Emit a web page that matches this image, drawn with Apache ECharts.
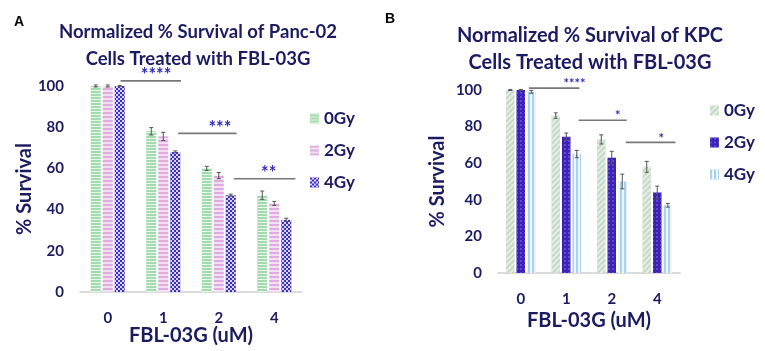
<!DOCTYPE html>
<html>
<head>
<meta charset="utf-8">
<script src="https://cdn.jsdelivr.net/npm/echarts@6/dist/echarts.min.js"></script>
<style>
html, body { margin: 0; padding: 0; background: #fff; }
#wrap { position: relative; width: 765px; height: 351px; }
#chartA { position: absolute; left: 0; top: 0; width: 380px; height: 351px; }
#chartB { position: absolute; left: 380px; top: 0; width: 385px; height: 351px; }
</style>
</head>
<body>
<div id="wrap"><div id="chartA"></div><div id="chartB"></div></div>
<script>
var categories = ['0', '1', '2', '4'];
var doseNames = ['0Gy', '2Gy', '4Gy'];

/* A: Panc-02 */
var panc0Gy = [100, 78, 60, 47];
var panc2Gy = [100, 75.5, 56.5, 43];
var panc4Gy = [100, 68, 47, 35];
var pancErr0Gy = [0.5, 1.8, 1, 2];
var pancErr2Gy = [0.5, 2, 1.5, 1];
var pancErr4Gy = [0.3, 0.5, 0.5, 0.8];
var pancSigFrom = [0.23, 1.27, 2.27];
var pancSigTo = [1.32, 2.32, 3.38];
var pancSigY = [102.5, 77, 55];
var pancSigLabelX = [0.87, 2.02, 2.9];
var pancSigText = ['****', '***', '**'];

/* B: KPC */
var kpc0Gy = [100, 86, 73, 58];
var kpc2Gy = [100, 74.5, 63, 44];
var kpc4Gy = [99, 65, 50, 37];
var kpcErr0Gy = [0.3, 1.5, 2.5, 3];
var kpcErr2Gy = [0.3, 2, 3.5, 3.5];
var kpcErr4Gy = [0.8, 2, 4, 1];
var kpcSigFrom = [0.18, 1.27, 2.31];
var kpcSigTo = [1.29, 2.33, 3.4];
var kpcSigY = [101, 83.5, 71.4];
var kpcSigLabelX = [1.18, 2.13, 3.09];
var kpcSigText = ['****', '*', '*'];

var navy = '#1c1b62';
var fontFam = 'Lato, "Open Sans", sans-serif';

function errorSeries(values, errors, offset) {
	return {
		type: 'custom',
		z: 10,
		silent: true,
		encode: { x: 0, y: 1 },
		data: values.map(function (v, i) { return [i, v, errors[i]]; }),
		renderItem: function (params, api) {
			var i = api.value(0), v = api.value(1), e = api.value(2);
			var hi = api.coord([i, v + e]);
			var lo = api.coord([i, v - e]);
			var cx = hi[0] + offset;
			var st = { stroke: '#555', lineWidth: 1 };
			return {
				type: 'group',
				children: [
					{ type: 'line', shape: { x1: cx, y1: hi[1], x2: cx, y2: lo[1] }, style: st },
					{ type: 'line', shape: { x1: cx - 2, y1: hi[1], x2: cx + 2, y2: hi[1] }, style: st },
					{ type: 'line', shape: { x1: cx - 2, y1: lo[1], x2: cx + 2, y2: lo[1] }, style: st }
				]
			};
		}
	};
}

function sigSeries(from, to, ys, labelX, texts, starSize) {
	return {
		type: 'custom',
		z: 10,
		silent: true,
		encode: { x: 0, y: 1 },
		data: ys.map(function (y, i) { return [0, y]; }),
		renderItem: function (params, api) {
			var k = params.dataIndex;
			var base = api.coord([0, api.value(1)]);
			var band = api.size([1, 0])[0];
			return {
				type: 'group',
				children: [
					{ type: 'line', shape: { x1: base[0] + from[k] * band, y1: base[1], x2: base[0] + to[k] * band, y2: base[1] },
						style: { stroke: '#777', lineWidth: 1.6 } },
					{ type: 'text', x: base[0] + labelX[k] * band, y: base[1] + starSize * 0.2,
						style: { text: texts[k], fill: '#2f2fb8', font: 'bold ' + starSize + 'px ' + fontFam, align: 'center', verticalAlign: 'bottom' } }
				]
			};
		}
	};
}

function barSeries(name, values, color, decal, width, gap) {
	return {
		name: name,
		type: 'bar',
		data: values,
		barWidth: width,
		barGap: gap,
		itemStyle: { color: color, decal: decal }
	};
}

function makeOption(cfg) {
	return {
		animation: false,
		aria: { enabled: false },
		title: [
			{ text: cfg.letter, left: cfg.letterX, top: cfg.letterY, padding: 0,
				textStyle: { fontFamily: 'Liberation Sans, Arial, sans-serif', fontWeight: 'bold', fontSize: 14, color: '#000' } },
			{ text: cfg.title, left: cfg.titleX, top: cfg.titleY, textAlign: 'center', padding: 0,
				textStyle: { fontFamily: fontFam, fontWeight: 'bold', fontSize: cfg.titleSize, lineHeight: 27, color: navy } }
		],
		legend: {
			orient: 'vertical',
			left: cfg.legendX,
			top: cfg.legendY,
			itemWidth: 9,
			itemHeight: 10,
			itemGap: cfg.legendGap,
			icon: 'rect',
			data: doseNames,
			textStyle: { fontFamily: fontFam, fontWeight: 'bold', fontSize: 17, color: navy }
		},
		grid: cfg.grid,
		xAxis: {
			type: 'category',
			data: categories,
			axisTick: { show: false },
			axisLine: { lineStyle: { color: '#cfcfcf', width: 1.5 } },
			axisLabel: { margin: cfg.catMargin, fontFamily: fontFam, fontWeight: 'bold', fontSize: 15, color: navy },
			name: 'FBL-03G (uM)',
			nameLocation: 'middle',
			nameGap: cfg.xNameGap,
			nameMoveOverlap: false,
			nameTextStyle: { fontFamily: fontFam, fontWeight: 'bold', fontSize: 20, color: navy }
		},
		yAxis: {
			type: 'value',
			min: 0,
			max: 100,
			interval: 20,
			axisLine: { show: false },
			axisTick: { show: false },
			splitLine: { show: false },
			axisLabel: { margin: cfg.yLabelMargin, fontFamily: fontFam, fontWeight: 'bold', fontSize: 15, color: navy },
			name: '% Survival',
			nameLocation: 'middle',
			nameGap: cfg.yNameGap,
			nameMoveOverlap: false,
			nameTextStyle: { fontFamily: fontFam, fontWeight: 'bold', fontSize: 20, color: navy }
		},
		series: cfg.series
	};
}

/* A decals */
var decalA0 = { symbol: 'rect', symbolSize: 1, color: 'rgba(255,255,255,0.75)', dashArrayX: [1, 0], dashArrayY: [1, 2] };
var decalA2 = { symbol: 'rect', symbolSize: 1, color: 'rgba(214,150,214,0.7)', dashArrayX: [1, 0], dashArrayY: [1.2, 1.8] };
var decalA4 = { symbol: 'rect', symbolSize: 1, color: 'rgba(255,255,255,0.8)', dashArrayX: [[2, 2], [0, 2, 2, 0]], dashArrayY: [2, 0] };
/* B decals */
var decalB0 = { symbol: 'rect', symbolSize: 1, color: 'rgba(255,255,255,0.55)', dashArrayX: [1, 0], dashArrayY: [1.2, 2], rotation: -Math.PI / 4 };
var decalB2 = { symbol: 'rect', symbolSize: 1, color: 'rgba(120,110,225,0.55)', dashArrayX: [1.5, 1.5], dashArrayY: [1.5, 1.5] };
var decalB4 = { symbol: 'rect', symbolSize: 1, color: 'rgba(255,255,255,0.8)', dashArrayX: [1, 0], dashArrayY: [1.3, 1.7], rotation: Math.PI / 2 };

var chartA = echarts.init(document.getElementById('chartA'), null, { renderer: 'canvas' });
chartA.setOption(makeOption({
	letter: 'A', letterX: 14, letterY: 15,
	title: 'Normalized % Survival of Panc-02\nCells Treated with FBL-03G', titleX: 198, titleY: 19, titleSize: 18.5,
	legendX: 305, legendY: 105, legendGap: 15,
	grid: { left: 80, top: 86, width: 222, height: 208 },
	catMargin: 19, xNameGap: 34, yNameGap: 45, yLabelMargin: 16,
	series: [
		barSeries('0Gy', panc0Gy, '#a3dbae', decalA0, 10, '20%'),
		barSeries('2Gy', panc2Gy, '#f2e0f2', decalA2, 10, '20%'),
		barSeries('4Gy', panc4Gy, '#3b2ec4', decalA4, 10, '20%'),
		errorSeries(panc0Gy, pancErr0Gy, -12),
		errorSeries(panc2Gy, pancErr2Gy, 0),
		errorSeries(panc4Gy, pancErr4Gy, 12),
		sigSeries(pancSigFrom, pancSigTo, pancSigY, pancSigLabelX, pancSigText, 18)
	]
}));

var chartB = echarts.init(document.getElementById('chartB'), null, { renderer: 'canvas' });
chartB.setOption(makeOption({
	letter: 'B', letterX: 5, letterY: 12,
	title: 'Normalized % Survival of KPC\nCells Treated with FBL-03G', titleX: 210, titleY: 22, titleSize: 20,
	legendX: 325, legendY: 97, legendGap: 15,
	grid: { left: 118, top: 90, width: 182, height: 183 },
	catMargin: 19, xNameGap: 38, yNameGap: 50, yLabelMargin: 16,
	series: [
		barSeries('0Gy', kpc0Gy, '#c6d8c6', decalB0, 8.5, '24%'),
		barSeries('2Gy', kpc2Gy, '#3d22b5', decalB2, 8.5, '24%'),
		barSeries('4Gy', kpc4Gy, '#a9d2f2', decalB4, 8.5, '24%'),
		errorSeries(kpc0Gy, kpcErr0Gy, -10.5),
		errorSeries(kpc2Gy, kpcErr2Gy, 0),
		errorSeries(kpc4Gy, kpcErr4Gy, 10.5),
		sigSeries(kpcSigFrom, kpcSigTo, kpcSigY, kpcSigLabelX, kpcSigText, 13)
	]
}));
</script>
</body>
</html>
